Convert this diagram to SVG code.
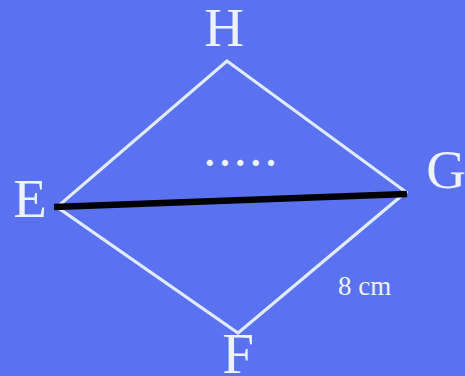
<svg xmlns="http://www.w3.org/2000/svg" width="465" height="376" viewBox="0 0 465 376">
<style>
.side{stroke:#e2eaff;stroke-width:3.2;fill:none;stroke-linecap:round}
.lbl{font-family:"Liberation Serif","Times New Roman",serif;fill:#eef2ff}
</style>
<rect width="465" height="376" fill="#5a72f0"/>
<g id="connectors">
<polygon class="side" points="227,61 406,192 238,333 57,207" stroke-linejoin="miter"/>
<line x1="54" y1="207" x2="407" y2="194" stroke="#000" stroke-width="6.5"/>
</g>
<g id="H"><text class="lbl" x="224" y="46" font-size="55" text-anchor="middle">H</text></g>
<g id="G"><text class="lbl" x="446" y="188" font-size="55" text-anchor="middle">G</text></g>
<g id="E"><text class="lbl" x="30" y="217" font-size="55" text-anchor="middle">E</text></g>
<g id="F"><text class="lbl" x="238" y="373" font-size="57" text-anchor="middle">F</text></g>
<g id="len"><text class="lbl" x="338" y="295" font-size="27">8 cm</text></g>
<g id="dots"><text class="lbl" x="205" y="166" font-size="38" font-weight="bold" letter-spacing="5.8">.....</text></g>
</svg>
